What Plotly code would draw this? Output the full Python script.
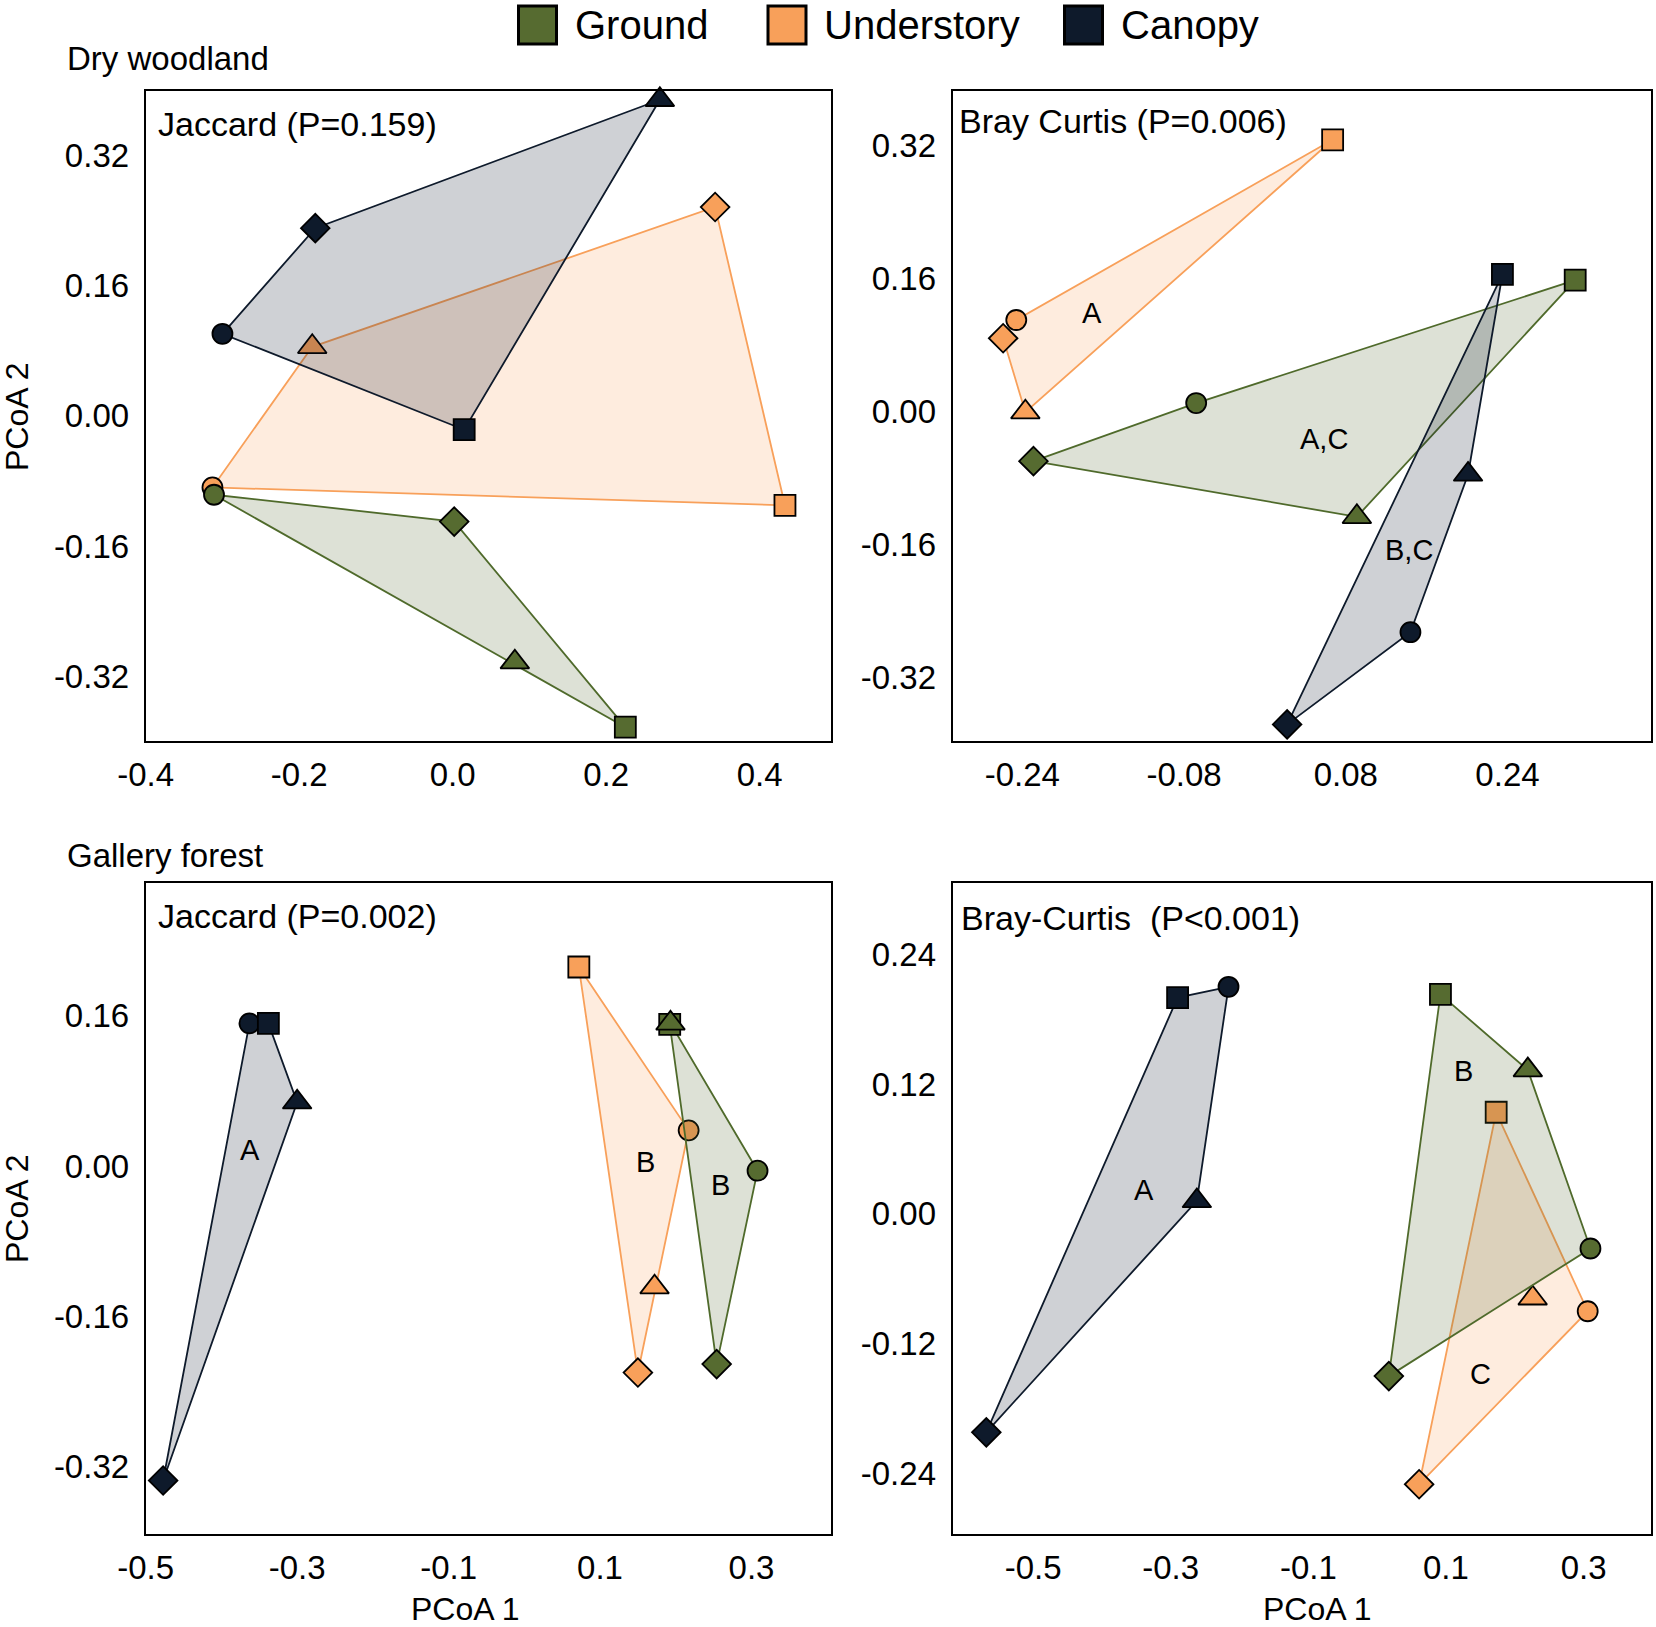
import plotly.graph_objects as go
from plotly.subplots import make_subplots

W, H = 1656, 1627

# point order in every group: circle, square, diamond, triangle
symbols = ["circle", "square", "diamond", "triangle-up"]
sizes = [20, 21, 22, 25]

# Dry woodland - Jaccard
dwj_ground_x = [-0.311, 0.225, 0.002, 0.081]
dwj_ground_y = [-0.097, -0.383, -0.130, -0.303]
dwj_under_x = [-0.313, 0.433, 0.342, -0.183]
dwj_under_y = [-0.088, -0.110, 0.257, 0.085]
dwj_canopy_x = [-0.300, 0.015, -0.179, 0.270]
dwj_canopy_y = [0.101, -0.017, 0.231, 0.389]

# Dry woodland - Bray Curtis
dwb_ground_x = [-0.068, 0.307, -0.229, 0.091]
dwb_ground_y = [0.010, 0.158, -0.060, -0.127]
dwb_under_x = [-0.246, 0.067, -0.259, -0.237]
dwb_under_y = [0.110, 0.327, 0.088, -0.001]
dwb_canopy_x = [0.144, 0.235, 0.022, 0.201]
dwb_canopy_y = [-0.266, 0.165, -0.377, -0.076]
dwb_labels = ["A,C", "A", "B,C"]
dwb_label_x = [0.058, -0.171, 0.143]
dwb_label_y = [-0.033, 0.119, -0.167]

# Gallery forest - Jaccard
gfj_ground_x = [0.308, 0.192, 0.254, 0.193]
gfj_ground_y = [-0.005, 0.151, -0.211, 0.152]
gfj_under_x = [0.217, 0.072, 0.150, 0.172]
gfj_under_y = [0.038, 0.212, -0.220, -0.129]
gfj_canopy_x = [-0.363, -0.338, -0.477, -0.300]
gfj_canopy_y = [0.152, 0.152, -0.335, 0.068]
gfj_labels = ["B", "B", "A"]
gfj_label_x = [0.259, 0.160, -0.362]
gfj_label_y = [-0.020, 0.004, 0.017]

# Gallery forest - Bray-Curtis
gfb_ground_x = [0.310, 0.092, 0.017, 0.219]
gfb_ground_y = [-0.032, 0.203, -0.150, 0.133]
gfb_under_x = [0.306, 0.173, 0.061, 0.226]
gfb_under_y = [-0.090, 0.094, -0.250, -0.078]
gfb_canopy_x = [-0.216, -0.290, -0.568, -0.262]
gfb_canopy_y = [0.210, 0.200, -0.202, 0.012]
gfb_labels = ["B", "C", "A"]
gfb_label_x = [0.126, 0.150, -0.339]
gfb_label_y = [0.132, -0.148, 0.022]

groups = ["Understory", "Ground", "Canopy"]
marker_col = {"Ground": "#566b30", "Understory": "#f8a05a", "Canopy": "#0e1a2b"}
line_col = {"Ground": "#4f6a2b", "Understory": "#f8a05a", "Canopy": "#0e1a2b"}
fill_col = {
    "Ground": "rgba(86,107,48,0.2)",
    "Understory": "rgba(248,160,90,0.2)",
    "Canopy": "rgba(14,26,43,0.2)",
}

panels = [
    {"Ground": (dwj_ground_x, dwj_ground_y), "Understory": (dwj_under_x, dwj_under_y),
     "Canopy": (dwj_canopy_x, dwj_canopy_y), "labels": ([], [], [])},
    {"Ground": (dwb_ground_x, dwb_ground_y), "Understory": (dwb_under_x, dwb_under_y),
     "Canopy": (dwb_canopy_x, dwb_canopy_y), "labels": (dwb_labels, dwb_label_x, dwb_label_y)},
    {"Ground": (gfj_ground_x, gfj_ground_y), "Understory": (gfj_under_x, gfj_under_y),
     "Canopy": (gfj_canopy_x, gfj_canopy_y), "labels": (gfj_labels, gfj_label_x, gfj_label_y)},
    {"Ground": (gfb_ground_x, gfb_ground_y), "Understory": (gfb_under_x, gfb_under_y),
     "Canopy": (gfb_canopy_x, gfb_canopy_y), "labels": (gfb_labels, gfb_label_x, gfb_label_y)},
]
panel_titles = ["Jaccard (P=0.159)", "Bray Curtis (P=0.006)",
                "Jaccard (P=0.002)", "Bray-Curtis  (P<0.001)"]


def hull(xs, ys):
    pts = sorted(set(zip(xs, ys)))
    if len(pts) < 3:
        return pts

    def cross(o, a, b):
        return (a[0] - o[0]) * (b[1] - o[1]) - (a[1] - o[1]) * (b[0] - o[0])

    lower, upper = [], []
    for p in pts:
        while len(lower) >= 2 and cross(lower[-2], lower[-1], p) <= 0:
            lower.pop()
        lower.append(p)
    for p in reversed(pts):
        while len(upper) >= 2 and cross(upper[-2], upper[-1], p) <= 0:
            upper.pop()
        upper.append(p)
    return lower[:-1] + upper[:-1]


def px(x):
    return x / W


def py(y):
    return 1 - y / H


fig = make_subplots(rows=2, cols=2)
font = "Arial, Liberation Sans, sans-serif"

for i, pan in enumerate(panels):
    r, c = i // 2 + 1, i % 2 + 1
    for g in groups:
        xs, ys = pan[g]
        h = hull(xs, ys)
        hx = [p[0] for p in h] + [h[0][0]]
        hy = [p[1] for p in h] + [h[0][1]]
        fig.add_trace(
            go.Scatter(
                x=hx, y=hy, mode="lines", fill="toself",
                fillcolor=fill_col[g],
                line=dict(color=line_col[g], width=1.8),
                showlegend=False, hoverinfo="skip",
            ),
            row=r, col=c,
        )
        fig.add_trace(
            go.Scatter(
                x=xs, y=ys, mode="markers", name=g,
                marker=dict(symbol=symbols, size=sizes, color=marker_col[g], opacity=1,
                            line=dict(color="black", width=1.8)),
                cliponaxis=False, showlegend=False,
            ),
            row=r, col=c,
        )
    txt, lx, ly = pan["labels"]
    for t, x, y in zip(txt, lx, ly):
        fig.add_annotation(x=x, y=y, text=t, showarrow=False,
                           font=dict(size=29, color="black"), row=r, col=c)

# axes
x_dom = [[px(145.7), px(831)], [px(952.6), px(1651)]]
y_dom = [[py(741), py(90.8)], [py(1534), py(883)]]
x_ranges = [[-0.4, 0.493], [-0.309, 0.382], [-0.5, 0.405], [-0.617, 0.398]]
y_ranges = [[-0.4, 0.4], [-0.397, 0.386], [-0.392, 0.3015], [-0.296, 0.306]]
x_ticks = [[-0.4, -0.2, 0.0, 0.2, 0.4], [-0.24, -0.08, 0.08, 0.24],
           [-0.5, -0.3, -0.1, 0.1, 0.3], [-0.5, -0.3, -0.1, 0.1, 0.3]]
x_ticktext = [["-0.4", "-0.2", "0.0", "0.2", "0.4"], ["-0.24", "-0.08", "0.08", "0.24"],
              ["-0.5", "-0.3", "-0.1", "0.1", "0.3"], ["-0.5", "-0.3", "-0.1", "0.1", "0.3"]]
y_ticks = [[-0.32, -0.16, 0.0, 0.16, 0.32], [-0.32, -0.16, 0.0, 0.16, 0.32],
           [-0.32, -0.16, 0.0, 0.16], [-0.24, -0.12, 0.0, 0.12, 0.24]]
y_ticktext = [["-0.32", "-0.16", "0.00", "0.16", "0.32"], ["-0.32", "-0.16", "0.00", "0.16", "0.32"],
              ["-0.32", "-0.16", "0.00", "0.16"], ["-0.24", "-0.12", "0.00", "0.12", "0.24"]]

axis_style = dict(showline=True, mirror=True, linecolor="black", linewidth=2,
                  showgrid=False, zeroline=False, ticks="", automargin=False,
                  tickfont=dict(size=33, color="black", family=font))

for i in range(4):
    r, c = i // 2 + 1, i % 2 + 1
    fig.update_xaxes(domain=x_dom[c - 1], range=x_ranges[i], tickvals=x_ticks[i],
                     ticktext=x_ticktext[i], ticklabelstandoff=3, row=r, col=c, **axis_style)
    fig.update_yaxes(domain=y_dom[r - 1], range=y_ranges[i], tickvals=y_ticks[i],
                     ticktext=y_ticktext[i], ticklabelstandoff=8, row=r, col=c, **axis_style)

# panel texts
title_pos = [(156, 124), (957, 121), (156, 916), (959, 918)]
for t, (x, y) in zip(panel_titles, title_pos):
    fig.add_annotation(x=px(x), y=py(y), xref="paper", yref="paper", text=t,
                       showarrow=False, xanchor="left", yanchor="middle",
                       font=dict(size=34, color="black"))

for t, y in [("Dry woodland", 58), ("Gallery forest", 855)]:
    fig.add_annotation(x=px(65), y=py(y), xref="paper", yref="paper", text=t,
                       showarrow=False, xanchor="left", yanchor="middle",
                       font=dict(size=33, color="black"))

for y in [417, 1209]:
    fig.add_annotation(x=px(17), y=py(y), xref="paper", yref="paper", text="PCoA 2",
                       textangle=-90, showarrow=False, xanchor="center", yanchor="middle",
                       font=dict(size=32, color="black"))
for x in [465, 1317]:
    fig.add_annotation(x=px(x), y=py(1609), xref="paper", yref="paper", text="PCoA 1",
                       showarrow=False, xanchor="center", yanchor="middle",
                       font=dict(size=32, color="black"))

# legend at top
legend_items = [("Ground", 518.5), ("Understory", 768), ("Canopy", 1064.5)]
for name, x0 in legend_items:
    fig.add_shape(type="rect", xref="paper", yref="paper",
                  x0=px(x0), x1=px(x0 + 38), y0=py(44), y1=py(6),
                  fillcolor=marker_col[name], line=dict(color="black", width=3))
    fig.add_annotation(x=px(x0 + 54), y=py(25), xref="paper", yref="paper", text=name,
                       showarrow=False, xanchor="left", yanchor="middle",
                       font=dict(size=40, color="black"))

fig.update_layout(
    width=W, height=H,
    margin=dict(l=0, r=0, t=0, b=0),
    paper_bgcolor="white", plot_bgcolor="white",
    font=dict(family=font, color="black"),
    showlegend=False,
)

# drop the page's default body margin so the figure sits at the window corner
fig.write_html("out.html", config={"displayModeBar": False},
               post_script="document.body.style.margin = '0px';")
